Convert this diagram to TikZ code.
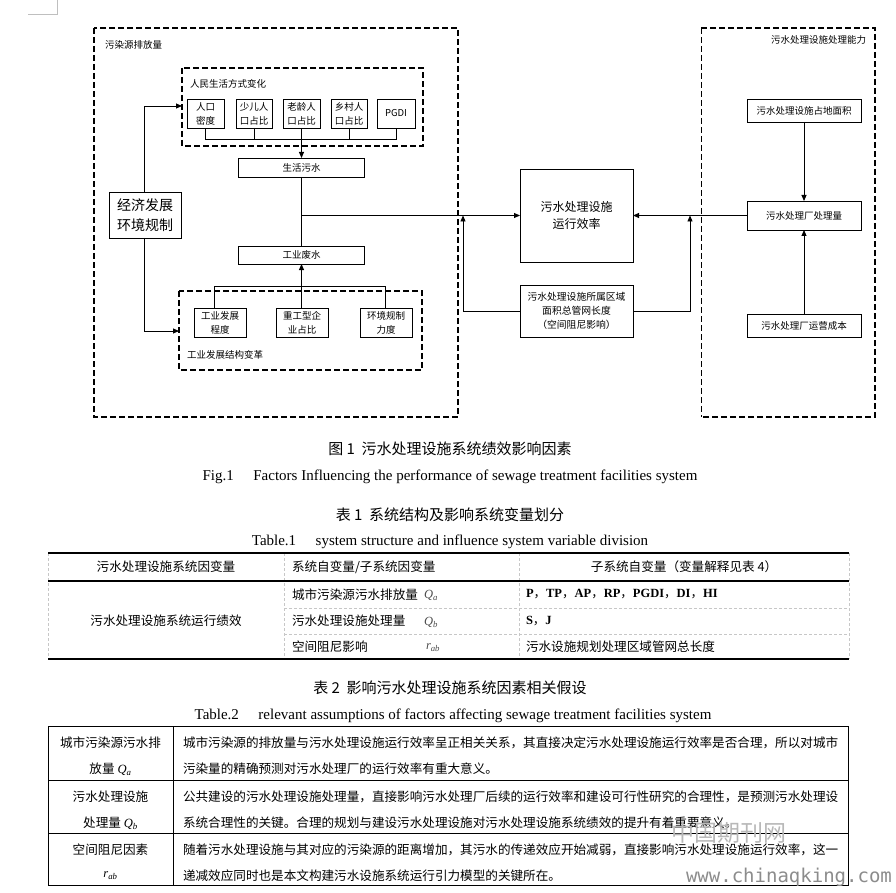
\documentclass[tikz,border=0pt]{standalone}
\usepackage{fontspec}
\setmainfont{Liberation Serif}
\newfontfamily\cjk{Noto Sans CJK SC}
\newfontfamily\wmono{DejaVu Sans Mono}
\usetikzlibrary{arrows.meta}
\begin{document}
\begin{tikzpicture}[x=1pt,y=-1pt,
  every node/.style={inner sep=0pt, outer sep=0pt},
  bx/.style={draw, line width=0.9pt, align=center, font=\cjk\fontsize{9.5}{14}\selectfont},
  dbox/.style={draw, line width=2pt, dash pattern=on 6pt off 3pt},
  dthin/.style={draw, line width=1pt, dash pattern=on 6pt off 3pt},
  ln/.style={line width=0.9pt},
  arr/.style={line width=0.9pt, -{Triangle[length=6pt,width=5pt]}},
  lbl/.style={font=\cjk\fontsize{9.5}{12}\selectfont},
  captxt/.style={font=\cjk\fontsize{15}{17}\selectfont},
  captxten/.style={font=\fontsize{15}{17}\selectfont},
  tb/.style={font=\cjk\fontsize{12.6}{15}\selectfont},
  tben/.style={font=\bfseries\fontsize{12.5}{15}\selectfont},
  rulethick/.style={line width=1.5pt},
  rulemid/.style={line width=1.1pt},
  grayd/.style={draw=black!22, line width=0.8pt, dash pattern=on 3pt off 2pt},
  tabline/.style={line width=0.9pt}
]
\useasboundingbox (0,0) rectangle (896,893);
% crop mark
\draw[black!25, line width=0.8pt] (28,14) -- (57,14) -- (57,0);

% ---------- left big dashed region ----------
\draw[dbox] (94,28) rectangle (458,417);
\node[lbl, anchor=west] (lblA) at (105,45) {污染源排放量};

\draw[dbox] (182,68) rectangle (423,146);
\node[lbl, anchor=west] (lblB) at (190,84) {人民生活方式变化};

\node[bx, minimum width=37pt, minimum height=29pt] (p1) at (205.5,113.5) {人口\\密度};
\node[bx, minimum width=36pt, minimum height=29pt] (p2) at (254,113.5) {少儿人\\口占比};
\node[bx, minimum width=37pt, minimum height=29pt] (p3) at (301.5,113.5) {老龄人\\口占比};
\node[bx, minimum width=36pt, minimum height=29pt] (p4) at (349,113.5) {乡村人\\口占比};
\node[bx, minimum width=38pt, minimum height=29pt] (p5) at (396,113.5) {PGDI};

\node[bx, minimum width=126pt, minimum height=19pt] (shw) at (301.5,167.5) {生活污水};
\node[bx, minimum width=126pt, minimum height=18pt] (gyf) at (301.5,255) {工业废水};

\coordinate (busT) at (301.5,139);
\draw[ln] (p1.south) -- (p1.south |- busT) -- (p5.south |- busT) -- (p5.south);
\draw[ln] (p2.south) -- (p2.south |- busT);
\draw[ln] (p4.south) -- (p4.south |- busT);
\draw[arr] (p3.south) -- (shw.north);

\coordinate (j1) at (301.5,215.5);
\draw[ln] (shw.south) -- (gyf.north);

% industrial structure
\draw[dbox] (179,291) rectangle (422,370);
\node[lbl, anchor=west] (lblC) at (187,355) {工业发展结构变革};
\node[bx, minimum width=52pt, minimum height=29pt] (i1) at (220,322.5) {工业发展\\程度};
\node[bx, minimum width=52pt, minimum height=29pt] (i2) at (302,322.5) {重工型企\\业占比};
\node[bx, minimum width=52pt, minimum height=29pt] (i3) at (386,322.5) {环境规制\\力度};
\coordinate (busB) at (301.5,286);
\draw[ln] (214,308) -- (214,286) -- (385,286) -- (385,308);
\draw[arr] (301.5,308) -- (gyf.south);

% economy box
\node[bx, minimum width=72pt, minimum height=46pt, font=\cjk\fontsize{14}{20}\selectfont] (eco) at (145,215) {经济发展\\环境规制};
\coordinate (eA) at (182,106);
\coordinate (eB) at (179,331);
\draw[arr] (144,192) |- (eA);
\draw[arr] (144,238) |- (eB);

% ---------- centre ----------
\node[bx, minimum width=113pt, minimum height=93pt, font=\cjk\fontsize{12}{17}\selectfont] (main) at (576.5,215.5) {污水处理设施\\运行效率};
\node[bx, minimum width=113pt, minimum height=52pt, font=\cjk\fontsize{9.8}{14}\selectfont] (sp) at (576.5,311) {污水处理设施所属区域\\面积总管网长度\\（空间阻尼影响）};
\draw[arr] (j1) -- (main.west);
\coordinate (c1) at (463,215.5);
\coordinate (c2) at (690,215.5);
\draw[arr] (sp.west) -| (c1);
\draw[arr] (sp.east) -| (c2);

% ---------- right dashed region ----------
\draw[dbox] (701,28) -- (875,28) -- (875,417) -- (701,417);
\draw[dthin] (701,28) -- (701,417);
\node[lbl, anchor=east] (lblD) at (866,40) {污水处理设施处理能力};
\node[bx, minimum width=114pt, minimum height=23pt] (zd) at (804,110.5) {污水处理设施占地面积};
\node[bx, minimum width=114pt, minimum height=29pt] (pl) at (804,215.5) {污水处理厂处理量};
\node[bx, minimum width=114pt, minimum height=23pt] (yy) at (804,325.5) {污水处理厂运营成本};
\draw[arr] (zd.south) -- (pl.north);
\draw[arr] (yy.north) -- (pl.south);
\draw[arr] (pl.west) -- (main.east);

% ---------- captions ----------
\node[captxt] (cap1) at (450,449) {图 1\ \ 污水处理设施系统绩效影响因素};
\node[captxten] (cap2) at (450,477) {Fig.1\hspace{1.3em}Factors Influencing the performance of sewage treatment facilities system};
\node[captxt] (cap3) at (450,515) {表 1\ \ 系统结构及影响系统变量划分};
\node[captxten] (cap4) at (450,542) {Table.1\hspace{1.3em}system structure and influence system variable division};

% ---------- table 1 ----------
\draw[grayd] (48,553) -- (48,659);
\draw[grayd] (284,553) -- (284,659);
\draw[grayd] (519,553) -- (519,659);
\draw[grayd] (849,553) -- (849,659);
\draw[grayd] (284,608) -- (849,608);
\draw[grayd] (284,634) -- (849,634);
\draw[rulethick] (48,553) -- (849,553);
\draw[rulemid] (48,581) -- (849,581);
\draw[rulethick] (48,659) -- (849,659);

\node[tb] (h1) at (166,567) {污水处理设施系统因变量};
\node[tb, anchor=west] (h2) at (292,567) {系统自变量/子系统因变量};
\node[tb] (h3) at (684,567) {子系统自变量（变量解释见表 4）};
\node[tb] (b1) at (166,621) {污水处理设施系统运行绩效};
\node[tb, anchor=west] (r1a) at (292,594.5) {城市污染源污水排放量};
\node[anchor=west, font=\itshape\fontsize{12.5}{15}\selectfont, text=black!70] (r1b) at (424,595.5) {Q\textsubscript{a}};
\node[tben, anchor=west] (r1c) at (526,594.5) {P{\cjk\mdseries ，}TP{\cjk\mdseries ，}AP{\cjk\mdseries ，}RP{\cjk\mdseries ，}PGDI{\cjk\mdseries ，}DI{\cjk\mdseries ，}HI};
\node[tb, anchor=west] (r2a) at (292,621) {污水处理设施处理量};
\node[anchor=west, font=\itshape\fontsize{12.5}{15}\selectfont, text=black!70] (r2b) at (424,622) {Q\textsubscript{b}};
\node[tben, anchor=west] (r2c) at (526,621) {S{\cjk\mdseries ，}J};
\node[tb, anchor=west] (r3a) at (292,646.5) {空间阻尼影响};
\node[anchor=west, font=\itshape\fontsize{12.5}{15}\selectfont, text=black!70] (r3b) at (426,647.5) {r\textsubscript{ab}};
\node[tb, anchor=west] (r3c) at (526,646.5) {污水设施规划处理区域管网总长度};

% ---------- table 2 captions ----------
\node[captxt] (cap5) at (450,688) {表 2\ \ 影响污水处理设施系统因素相关假设};
\node[captxten] (cap6) at (453,716) {Table.2\hspace{1.3em}relevant assumptions of factors affecting sewage treatment facilities system};

% ---------- table 2 ----------
\draw[tabline] (48,726) rectangle (848,885);
\draw[tabline] (173,726) -- (173,885);
\draw[tabline] (48,780) -- (848,780);
\draw[tabline] (48,833) -- (848,833);

\node[tb] (a1) at (110.5,743) {城市污染源污水排};
\node[tb] (a2) at (110.5,769) {放量 {\rmfamily\itshape Q\textsubscript{a}}};
\node[tb] (b2) at (110.5,797) {污水处理设施};
\node[tb] (b3) at (110.5,823) {处理量 {\rmfamily\itshape Q\textsubscript{b}}};
\node[tb] (c3) at (110.5,850) {空间阻尼因素};
\node[font=\itshape\fontsize{12.5}{15}\selectfont] (c4) at (110.5,876) {r\textsubscript{ab}};

\node[tb, anchor=west] (d1) at (183,743) {城市污染源的排放量与污水处理设施运行效率呈正相关关系，其直接决定污水处理设施运行效率是否合理，所以对城市};
\node[tb, anchor=west] (d2) at (183,769) {污染量的精确预测对污水处理厂的运行效率有重大意义。};
\node[tb, anchor=west] (e1) at (183,797) {公共建设的污水处理设施处理量，直接影响污水处理厂后续的运行效率和建设可行性研究的合理性，是预测污水处理设};
\node[tb, anchor=west] (e2) at (183,823) {系统合理性的关键。合理的规划与建设污水处理设施对污水处理设施系统绩效的提升有着重要意义。};
\node[tb, anchor=west] (f1) at (183,850) {随着污水处理设施与其对应的污染源的距离增加，其污水的传递效应开始减弱，直接影响污水处理设施运行效率，这一};
\node[tb, anchor=west] (f2) at (183,876) {递减效应同时也是本文构建污水设施系统运行引力模型的关键所在。};

% ---------- watermark ----------
\node[font=\cjk\fontsize{23}{25}\selectfont, text=black!28] (wm1) at (729,833) {中国期刊网};
\node[font=\wmono\fontsize{19}{21}\selectfont, text=black!45, anchor=west] (wm2) at (686,877) {www.chinaqking.com};
\end{tikzpicture}
\end{document}
